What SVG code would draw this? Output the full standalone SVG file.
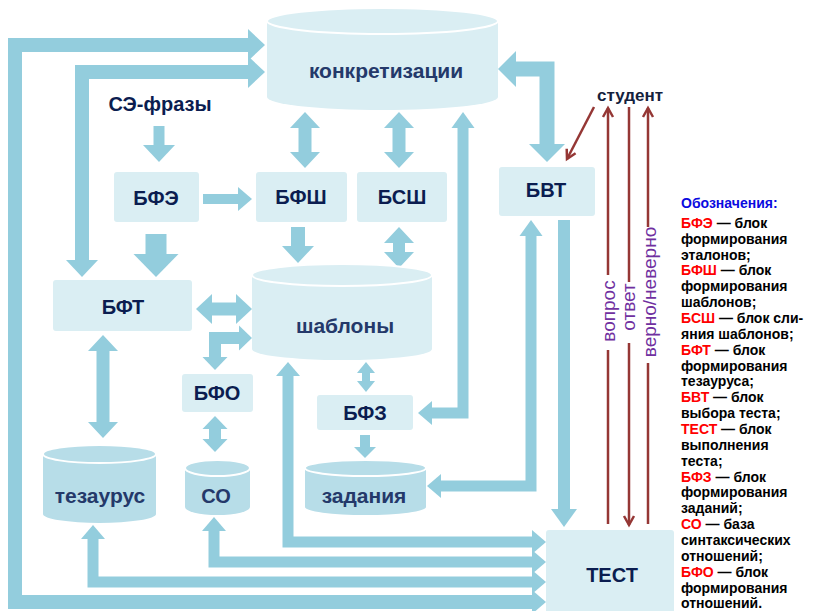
<svg xmlns="http://www.w3.org/2000/svg" width="818" height="611" viewBox="0 0 818 611">
<defs>
<style>
.box{fill:#DAEEF3}
.c1{fill:#DAEEF3}
.c2{fill:#B7DDE8}
.top{stroke:#ffffff;stroke-width:2}
.lbl{font-family:"Liberation Sans",Arial,sans-serif;font-weight:bold;font-size:20px;fill:#0B1D50;text-anchor:middle}
.clbl{font-family:"Liberation Sans",Arial,sans-serif;font-weight:bold;font-size:21px;fill:#24396A;text-anchor:middle}
.con{fill:none;stroke:#93CDDD;stroke-linejoin:miter;stroke-linecap:butt}
.hd{fill:#93CDDD}
.red{fill:none;stroke:#953735;stroke-width:2.5}
.vt{font-family:"Liberation Sans",Arial,sans-serif;font-size:19px;fill:#7030A0;text-anchor:middle}
.lg{font-family:"Liberation Sans",Arial,sans-serif;font-weight:bold;font-size:14px;fill:#000000}
.r{fill:#FF0000}
</style>
<marker id="mBig" markerUnits="userSpaceOnUse" markerWidth="16" markerHeight="32" refX="0" refY="16" orient="auto-start-reverse" overflow="visible"><path class="hd" d="M-1,0 L16,16 L-1,32 Z"/></marker>
<marker id="mHuge" markerUnits="userSpaceOnUse" markerWidth="17" markerHeight="36" refX="0" refY="18" orient="auto-start-reverse" overflow="visible"><path class="hd" d="M-1,0 L17,18 L-1,36 Z"/></marker>
<marker id="mMed" markerUnits="userSpaceOnUse" markerWidth="13" markerHeight="24" refX="0" refY="12" orient="auto-start-reverse" overflow="visible"><path class="hd" d="M-1,0 L13,12 L-1,24 Z"/></marker>
<marker id="mMT" markerUnits="userSpaceOnUse" markerWidth="15" markerHeight="23" refX="0" refY="11.5" orient="auto-start-reverse" overflow="visible"><path class="hd" d="M-1,0 L15,11.5 L-1,23 Z"/></marker>
<marker id="mDn" markerUnits="userSpaceOnUse" markerWidth="17" markerHeight="26" refX="0" refY="13" orient="auto-start-reverse" overflow="visible"><path class="hd" d="M-1,0 L17,13 L-1,26 Z"/></marker>
<marker id="mDbl" markerUnits="userSpaceOnUse" markerWidth="15" markerHeight="30" refX="0" refY="15" orient="auto-start-reverse" overflow="visible"><path class="hd" d="M-1,0 L15,15 L-1,30 Z"/></marker>
<marker id="mSm" markerUnits="userSpaceOnUse" markerWidth="12" markerHeight="25" refX="0" refY="12.5" orient="auto-start-reverse" overflow="visible"><path class="hd" d="M-1,0 L12,12.5 L-1,25 Z"/></marker>
<marker id="mTiny" markerUnits="userSpaceOnUse" markerWidth="10" markerHeight="18" refX="0" refY="9" orient="auto-start-reverse" overflow="visible"><path class="hd" d="M-1,0 L10,9 L-1,18 Z"/></marker>
<marker id="mT2" markerUnits="userSpaceOnUse" markerWidth="10" markerHeight="22" refX="0" refY="11" orient="auto-start-reverse" overflow="visible"><path class="hd" d="M-1,0 L10,11 L-1,22 Z"/></marker>
<marker id="mWide" markerUnits="userSpaceOnUse" markerWidth="22" markerHeight="45" refX="0" refY="22.5" orient="auto-start-reverse" overflow="visible"><path class="hd" d="M-1,0 L22,22.5 L-1,45 Z"/></marker>
<marker id="mR" markerUnits="userSpaceOnUse" markerWidth="12" markerHeight="12" refX="10" refY="5" orient="auto" overflow="visible"><path d="M1,0 L10,5 L1,10" fill="none" stroke="#953735" stroke-width="2.5"/></marker>
</defs>
<rect width="818" height="611" fill="#ffffff"/>

<g id="connectors">
<path class="con" stroke-width="14" d="M249,45 H15 V602 H533" marker-start="url(#mBig)" marker-end="url(#mMed)"/>
<path class="con" stroke-width="14" d="M249,72 H82 V261" marker-start="url(#mBig)" marker-end="url(#mBig)"/>
<path class="con" stroke-width="11" d="M288,375 V542 H533" marker-start="url(#mMed)" marker-end="url(#mMed)"/>
<path class="con" stroke-width="11" d="M214,530 V562 H533" marker-start="url(#mMed)" marker-end="url(#mMed)"/>
<path class="con" stroke-width="11" d="M93,538 V582 H533" marker-start="url(#mMed)" marker-end="url(#mMed)"/>
<path class="con" stroke-width="15" d="M515,69 H547 V145" marker-start="url(#mHuge)" marker-end="url(#mHuge)"/>
<path class="con" stroke-width="11" d="M463,127 V413 H431" marker-start="url(#mMT)" marker-end="url(#mMed)"/>
<path class="con" stroke-width="11" d="M531,235 V486 H440" marker-start="url(#mMT)" marker-end="url(#mMed)"/>
<path class="con" stroke-width="12" d="M564,220 V510" marker-end="url(#mDn)"/>
<path class="con" stroke-width="13" d="M305,127 V153" marker-start="url(#mDbl)" marker-end="url(#mDbl)"/>
<path class="con" stroke-width="13" d="M399,127 V153" marker-start="url(#mDbl)" marker-end="url(#mDbl)"/>
<path class="con" stroke-width="11" d="M159,126 V146" marker-end="url(#mBig)"/>
<path class="con" stroke-width="10" d="M203,199 H239" marker-end="url(#mMed)"/>
<path class="con" stroke-width="21" d="M156,234 V255" marker-end="url(#mWide)"/>
<path class="con" stroke-width="14" d="M298,227 V247" marker-end="url(#mBig)"/>
<path class="con" stroke-width="12" d="M399,242 V253" marker-start="url(#mDbl)" marker-end="url(#mDbl)"/>
<path class="con" stroke-width="13" d="M211,309 H237" marker-start="url(#mDbl)" marker-end="url(#mDbl)"/>
<path class="con" stroke-width="12" d="M240,338 H215 V358" marker-start="url(#mSm)" marker-end="url(#mSm)"/>
<path class="con" stroke-width="13" d="M103,350 V423" marker-start="url(#mDbl)" marker-end="url(#mDbl)"/>
<path class="con" stroke-width="12" d="M215,428 V440" marker-start="url(#mSm)" marker-end="url(#mSm)"/>
<path class="con" stroke-width="8" d="M366,372 V382" marker-start="url(#mTiny)" marker-end="url(#mTiny)"/>
<path class="con" stroke-width="10" d="M365,435 V448" marker-end="url(#mT2)"/>
<line class="red" x1="594" y1="107" x2="567" y2="159" marker-end="url(#mR)"/>
<line class="red" x1="608" y1="275" x2="608" y2="108" marker-end="url(#mR)"/>
<line class="red" x1="608" y1="350" x2="608" y2="524"/>
<line class="red" x1="629" y1="107" x2="629" y2="282"/>
<line class="red" x1="629" y1="343" x2="629" y2="525" marker-end="url(#mR)"/>
<line class="red" x1="648" y1="227" x2="648" y2="108" marker-end="url(#mR)"/>
<line class="red" x1="648" y1="363" x2="648" y2="524"/>
<text class="vt" transform="translate(609,311) rotate(-90)" x="0" y="6">вопрос</text>
<text class="vt" transform="translate(629,307) rotate(-90)" x="0" y="6">ответ</text>
<text class="vt" transform="translate(650,292) rotate(-90)" x="0" y="6">верно/неверно</text>
</g>

<g id="konkr">
<path class="c1" d="M267,21 V97 A115.5,13 0 0 0 498,97 V21 Z"/>
<ellipse class="c1 top" cx="382.5" cy="21" rx="115.5" ry="13"/>
<text class="clbl" x="386" y="78">конкретизации</text>
</g>
<g id="shablony">
<path class="c1" d="M252,275 V349 A90,11 0 0 0 432,349 V275 Z"/>
<ellipse class="c1 top" cx="342" cy="275" rx="90" ry="11"/>
<text class="clbl" x="345" y="333">шаблоны</text>
</g>
<g id="tezaurus">
<path class="c2" d="M43,454 V514 A56.5,9 0 0 0 156,514 V454 Z"/>
<ellipse class="c2 top" cx="99.5" cy="454" rx="56.5" ry="9"/>
<text class="clbl" x="100" y="503">тезаурус</text>
</g>
<g id="so">
<path class="c2" d="M185,468 V507 A32.5,8 0 0 0 250,507 V468 Z"/>
<ellipse class="c2 top" cx="217.5" cy="468" rx="32.5" ry="8"/>
<text class="clbl" x="216" y="503" style="font-size:20px">СО</text>
</g>
<g id="zadaniya">
<path class="c2" d="M305,468 V507 A60.5,8 0 0 0 426,507 V468 Z"/>
<ellipse class="c2 top" cx="365.5" cy="468" rx="60.5" ry="8"/>
<text class="clbl" x="364" y="503">задания</text>
</g>

<g id="se"><text class="lbl" x="160" y="111">СЭ-фразы</text></g>
<g id="bfe"><rect class="box" x="114" y="172" width="85" height="50" rx="3"/><text class="lbl" x="156" y="205">БФЭ</text></g>
<g id="bfsh"><rect class="box" x="256" y="172" width="91" height="50" rx="3"/><text class="lbl" x="301" y="204">БФШ</text></g>
<g id="bssh"><rect class="box" x="357" y="172" width="90" height="50" rx="3"/><text class="lbl" x="402" y="204">БСШ</text></g>
<g id="bft"><rect class="box" x="53" y="280" width="139" height="51" rx="3"/><text class="lbl" x="123" y="314">БФТ</text></g>
<g id="bvt"><rect class="box" x="499" y="167" width="96" height="49" rx="3"/><text class="lbl" x="546" y="197">БВТ</text></g>
<g id="bfo"><rect class="box" x="182" y="374" width="71" height="38" rx="3"/><text class="lbl" x="217" y="400">БФО</text></g>
<g id="bfz"><rect class="box" x="317" y="395" width="96" height="35" rx="3"/><text class="lbl" x="365" y="420">БФЗ</text></g>
<g id="test"><rect class="box" x="546" y="530" width="128" height="85" rx="3"/><text class="lbl" x="612" y="582">ТЕСТ</text></g>
<g id="student"><text class="lbl" x="630" y="101" style="font-size:17px;fill:#14213D">студент</text></g>

<g id="legend" class="lg">
<text x="681" y="208" fill="#0A0AE0">Обозначения:</text>
<text x="681" y="228"><tspan class="r">БФЭ</tspan> — блок</text>
<text x="681" y="244">формирования</text>
<text x="681" y="260">эталонов;</text>
<text x="681" y="275"><tspan class="r">БФШ</tspan> — блок</text>
<text x="681" y="291">формирования</text>
<text x="681" y="307">шаблонов;</text>
<text x="681" y="323"><tspan class="r">БСШ</tspan> — блок  сли-</text>
<text x="681" y="339">яния  шаблонов;</text>
<text x="681" y="355"><tspan class="r">БФТ</tspan> — блок</text>
<text x="681" y="371">формирования</text>
<text x="681" y="386">тезауруса;</text>
<text x="681" y="402"><tspan class="r">БВТ</tspan> — блок</text>
<text x="681" y="418">выбора  теста;</text>
<text x="681" y="434"><tspan class="r">ТЕСТ</tspan> — блок</text>
<text x="681" y="450">выполнения</text>
<text x="681" y="466">теста;</text>
<text x="681" y="482"><tspan class="r">БФЗ</tspan> — блок</text>
<text x="681" y="497">формирования</text>
<text x="681" y="513">заданий;</text>
<text x="681" y="529"><tspan class="r">СО</tspan> — база</text>
<text x="681" y="545">синтаксических</text>
<text x="681" y="561">отношений;</text>
<text x="681" y="577"><tspan class="r">БФО</tspan> — блок</text>
<text x="681" y="593">формирования</text>
<text x="681" y="608">отношений.</text>
</g>
</svg>
